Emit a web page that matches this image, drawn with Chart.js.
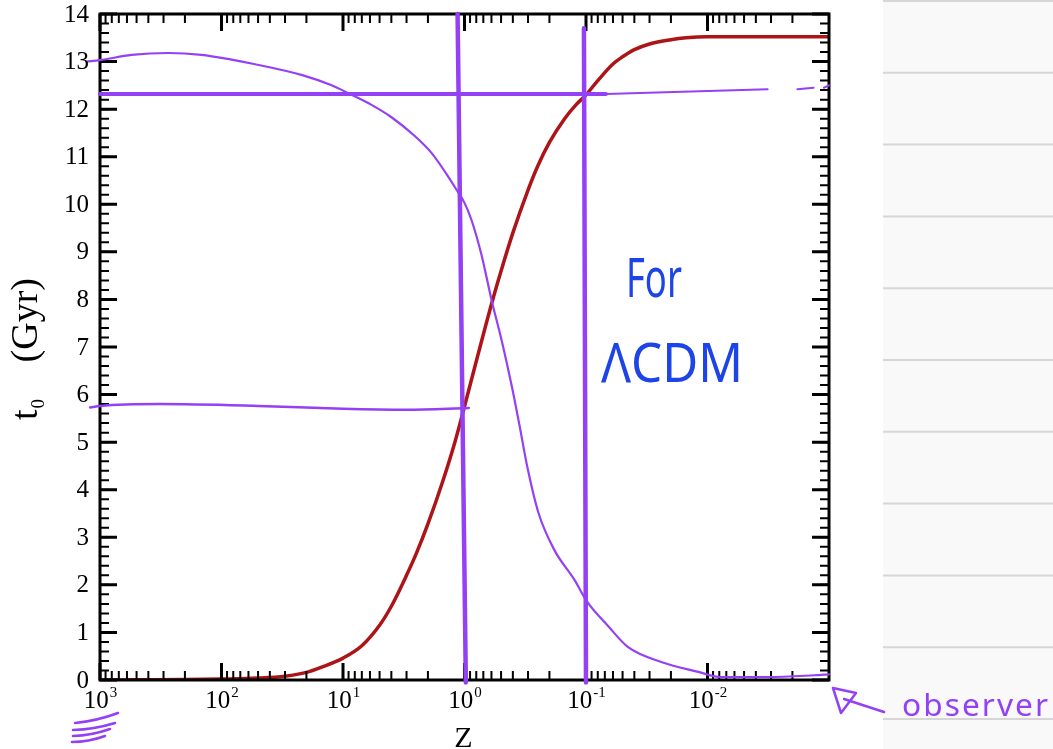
<!DOCTYPE html>
<html>
<head>
<meta charset="utf-8">
<script src="https://cdn.jsdelivr.net/npm/chart.js@4.4.0/dist/chart.umd.min.js"></script>
<style>
  html, body { margin: 0; padding: 0; background: #fff; }
  #wrap { width: 1053px; height: 749px; position: relative; }
</style>
</head>
<body>
<div id="wrap"><canvas id="ageChart"></canvas></div>
<script>
// axis ticks
const zTicks = [1000, 100, 10, 1, 0.1, 0.01];
const zTickExp = ['3', '2', '1', '0', '-1', '-2'];
const tTicks = [0, 1, 2, 3, 4, 5, 6, 7, 8, 9, 10, 11, 12, 13, 14];

// age of the universe at redshift z (red curve)
const ageZ = [1000, 500, 200, 100, 50, 30, 20, 15, 10, 7, 5, 4, 3, 2.5, 2, 1.5, 1.2, 1, 0.8, 0.6, 0.5, 0.4, 0.3, 0.25, 0.2, 0.15, 0.12, 0.1, 0.08, 0.06, 0.05, 0.04, 0.03, 0.02, 0.015, 0.01, 0.001];
const ageT = [0, 0.005, 0.01, 0.02, 0.04, 0.08, 0.16, 0.27, 0.46, 0.72, 1.15, 1.55, 2.2, 2.65, 3.28, 4.2, 5.0, 5.75, 6.7, 7.9, 8.6, 9.4, 10.3, 10.8, 11.3, 11.8, 12.1, 12.3, 12.6, 12.95, 13.1, 13.25, 13.37, 13.46, 13.5, 13.52, 13.52];

// hand drawn purple curve (lookback time)
const lookZ = [1291, 1000, 550, 273, 146, 82.7, 56.6, 22, 12.4, 8.51, 5.83, 3.99, 2.58, 1.87, 1.41, 1.16, 1, 0.876, 0.725, 0.599, 0.496, 0.41, 0.353, 0.303, 0.246, 0.182, 0.124, 0.1, 0.065, 0.045, 0.024, 0.0119, 0.0077, 0.0032, 0.00132, 0.001];
const lookT = [13.0, 13.03, 13.14, 13.18, 13.14, 13.04, 12.96, 12.72, 12.5, 12.3, 12.09, 11.83, 11.44, 11.08, 10.64, 10.3, 10.03, 9.67, 8.94, 7.99, 7.15, 6.2, 5.36, 4.46, 3.51, 2.73, 2.1, 1.68, 1.12, 0.69, 0.38, 0.17, 0.06, 0.06, 0.1, 0.12];

// hand drawn guide lines
const vline1Z = [1.14, 0.975];   const vline1T = [14, -0.05];
const vline2Z = [0.104, 0.1];    const vline2T = [13.7, -0.05];
const hlineZ = [1000, 0.0685];   const hlineT = [12.32, 12.32];
const hthinZ = [0.0685, 0.0032]; const hthinT = [12.32, 12.42];
const hdashZ = [0.00182, 0.00134]; const hdashT = [12.42, 12.45];
const hmarkZ = [0.0011, 0.001];  const hmarkT = [12.45, 12.5];
const lowZ = [1208, 1000, 321, 50, 10, 3, 0.92];
const lowT = [5.73, 5.76, 5.8, 5.76, 5.7, 5.68, 5.72];

const PURPLE = '#9440f5';
const RED = '#ad1418';
const SERIF = '"Liberation Serif", "DejaVu Serif", serif';

function pts(xs, ys) {
  return xs.map((v, i) => ({ x: v, y: ys[i] }));
}

function handLine(xs, ys, width, extra) {
  return Object.assign({
    data: pts(xs, ys),
    borderColor: PURPLE,
    borderWidth: width,
    pointRadius: 0,
    clip: false,
    borderCapStyle: 'round'
  }, extra || {});
}

const datasets = [
  handLine(vline1Z, vline1T, 4.5),
  handLine(vline2Z, vline2T, 4.5),
  handLine(hlineZ, hlineT, 4),
  handLine(hthinZ, hthinT, 2),
  handLine(hdashZ, hdashT, 2),
  handLine(hmarkZ, hmarkT, 2),
  handLine(lowZ, lowT, 2.5, { cubicInterpolationMode: 'monotone' }),
  handLine(lookZ, lookT, 2.2, { cubicInterpolationMode: 'monotone' }),
  {
    data: pts(ageZ, ageT),
    borderColor: RED,
    borderWidth: 3.5,
    pointRadius: 0,
    cubicInterpolationMode: 'monotone'
  }
];
const RED_INDEX = datasets.length - 1;

// box with inward ticks on all four sides, drawn right after the red curve
function drawFrame(chart) {
  const { ctx, chartArea: a, scales: { x, y } } = chart;
  ctx.save();
  ctx.strokeStyle = '#000';
  ctx.lineCap = 'butt';
  ctx.lineWidth = 2;
  ctx.beginPath();
  for (let e = -3; e < 3; e++) {
    for (let m = 2; m <= 9; m++) {
      const px = x.getPixelForValue(m * Math.pow(10, e));
      ctx.moveTo(px, a.bottom); ctx.lineTo(px, a.bottom - 9);
      ctx.moveTo(px, a.top); ctx.lineTo(px, a.top + 9);
    }
  }
  for (let v = 0; v <= 14.001; v += 0.2) {
    const py = y.getPixelForValue(v);
    ctx.moveTo(a.left, py); ctx.lineTo(a.left + 9, py);
    ctx.moveTo(a.right, py); ctx.lineTo(a.right - 9, py);
  }
  ctx.stroke();
  ctx.lineWidth = 3;
  ctx.beginPath();
  zTicks.forEach(v => {
    const px = x.getPixelForValue(v);
    ctx.moveTo(px, a.bottom); ctx.lineTo(px, a.bottom - 17);
    ctx.moveTo(px, a.top); ctx.lineTo(px, a.top + 17);
  });
  tTicks.forEach(v => {
    const py = y.getPixelForValue(v);
    ctx.moveTo(a.left, py); ctx.lineTo(a.left + 17, py);
    ctx.moveTo(a.right, py); ctx.lineTo(a.right - 17, py);
  });
  ctx.stroke();
  ctx.lineWidth = 3;
  ctx.strokeRect(a.left, a.top, a.right - a.left, a.bottom - a.top);
  ctx.restore();
}

const framePlugin = {
  id: 'frame',
  beforeDraw(chart) {
    // notebook paper on the right
    const ctx = chart.ctx;
    ctx.save();
    ctx.fillStyle = '#fff';
    ctx.fillRect(0, 0, chart.width, chart.height);
    ctx.fillStyle = '#f9f9f9';
    ctx.fillRect(883, 0, chart.width - 883, chart.height);
    ctx.strokeStyle = '#d6d6d6';
    ctx.lineWidth = 2;
    ctx.beginPath();
    for (let k = 0; k <= 10; k++) {
      const ly = 1 + k * 71.8;
      ctx.moveTo(883, ly); ctx.lineTo(chart.width, ly);
    }
    ctx.stroke();
    ctx.restore();
  },
  afterDatasetDraw(chart, args) {
    if (args.index === RED_INDEX) drawFrame(chart);
  },
  afterDraw(chart) {
    const { ctx, chartArea: a, scales: { x, y } } = chart;
    ctx.save();
    ctx.fillStyle = '#000';

    // x tick labels 10^n
    zTicks.forEach((v, i) => {
      const px = x.getPixelForValue(v);
      ctx.font = '25px ' + SERIF;
      const wb = ctx.measureText('10').width;
      ctx.font = '15px ' + SERIF;
      const we = ctx.measureText(zTickExp[i]).width;
      const left = px - (wb + we) / 2;
      ctx.textAlign = 'left';
      ctx.textBaseline = 'alphabetic';
      ctx.font = '25px ' + SERIF;
      ctx.fillText('10', left, a.bottom + 28);
      ctx.font = '15px ' + SERIF;
      ctx.fillText(zTickExp[i], left + wb + 1, a.bottom + 17);
    });

    // y tick labels
    ctx.font = '25px ' + SERIF;
    ctx.textAlign = 'right';
    ctx.textBaseline = 'middle';
    tTicks.forEach(v => {
      ctx.fillText(String(v), a.left - 11, y.getPixelForValue(v) + 1);
    });

    // x title
    ctx.font = '30px ' + SERIF;
    ctx.textAlign = 'center';
    ctx.textBaseline = 'alphabetic';
    ctx.fillText('Z', (a.left + a.right) / 2 - 1, 747);

    // y title t0 (Gyr), rotated
    ctx.save();
    ctx.translate(37, 349);
    ctx.rotate(-Math.PI / 2);
    ctx.textAlign = 'left';
    ctx.font = '38px ' + SERIF;
    const wt = ctx.measureText('t').width;
    const wg = ctx.measureText('(Gyr)').width;
    ctx.fillText('t', -71, 0);
    ctx.fillText('(Gyr)', 71 - wg, 0);
    ctx.font = '19px ' + SERIF;
    ctx.fillText('0', -71 + wt + 1, 7);
    ctx.restore();

    // handwritten notes
    function scribble(text, px, py, font, color, width, spacing) {
      ctx.save();
      ctx.font = font;
      ctx.letterSpacing = spacing || '0px';
      ctx.fillStyle = color;
      ctx.textAlign = 'left';
      ctx.textBaseline = 'alphabetic';
      const w = ctx.measureText(text).width;
      ctx.translate(px, py);
      ctx.scale(width / w, 1);
      ctx.fillText(text, 0, 0);
      ctx.restore();
    }
    scribble('For', x.getPixelForValue(0.0469), y.getPixelForValue(8.05), '54px "Noto Sans"', '#1c44e6', 56);
    scribble('\u039BCDM', x.getPixelForValue(0.0753), y.getPixelForValue(6.26), '54px "Noto Sans"', '#1c44e6', 142);
    scribble('observer', 902, 716, '31px "Noto Sans"', PURPLE, 148, '2px');

    // arrow pointing to the observer corner
    ctx.strokeStyle = PURPLE;
    ctx.fillStyle = PURPLE;
    ctx.lineWidth = 2.5;
    ctx.lineCap = 'round';
    ctx.lineJoin = 'round';
    const ox = x.getPixelForValue(0.001);
    ctx.beginPath();
    ctx.moveTo(ox + 4, 688);
    ctx.lineTo(ox + 27, 693);
    ctx.lineTo(ox + 12, 713);
    ctx.closePath();
    ctx.stroke();
    ctx.beginPath();
    ctx.moveTo(ox + 15, 699);
    ctx.lineTo(ox + 55, 712);
    ctx.stroke();

    // marks under 10^3
    const sx = x.getPixelForValue(1000);
    const strokes = [[-25, 723, 18, 713], [-27, 730, 15, 723], [-27, 736, 10, 729], [-28, 742, 5, 736]];
    strokes.forEach(s => {
      ctx.beginPath();
      ctx.moveTo(sx + s[0], s[1]);
      ctx.quadraticCurveTo(sx + (s[0] + s[2]) / 2, (s[1] + s[3]) / 2 + 3, sx + s[2], s[3]);
      ctx.stroke();
    });
    ctx.restore();
  }
};

new Chart(document.getElementById('ageChart'), {
  type: 'line',
  data: { datasets: datasets },
  options: {
    responsive: true,
    maintainAspectRatio: false,
    animation: false,
    devicePixelRatio: 1,
    layout: { padding: { left: 100, right: 224, top: 14, bottom: 69 } },
    plugins: { legend: { display: false }, tooltip: { enabled: false } },
    elements: { point: { radius: 0 } },
    scales: {
      x: { type: 'logarithmic', min: 0.001, max: 1000, reverse: true, display: false },
      y: { type: 'linear', min: 0, max: 14, display: false }
    }
  },
  plugins: [framePlugin]
});
</script>
</body>
</html>
